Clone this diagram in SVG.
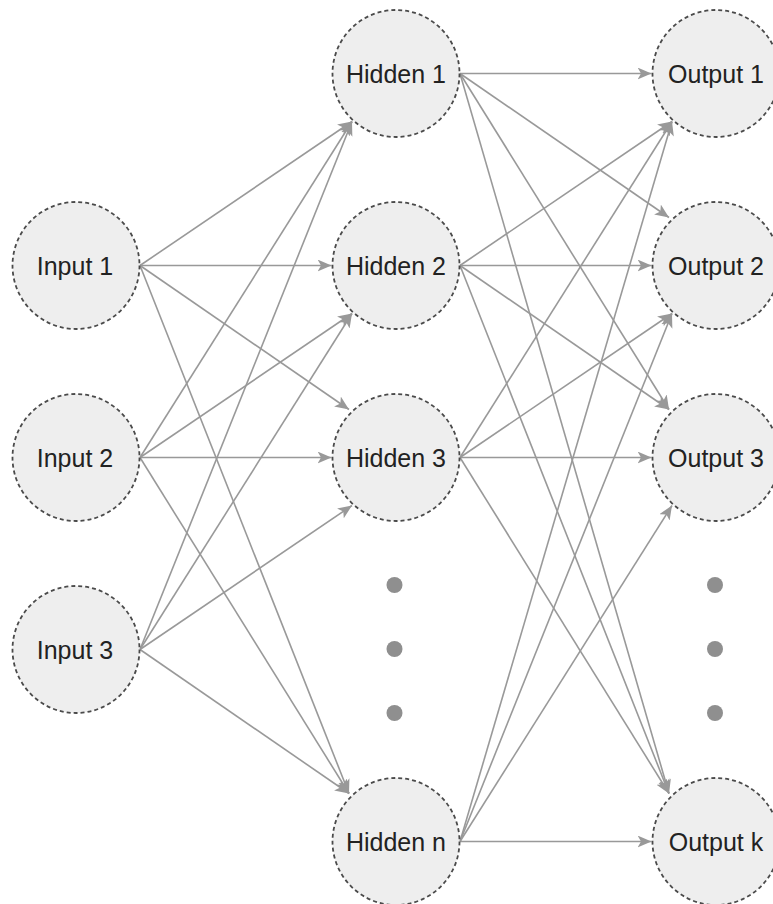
<svg xmlns="http://www.w3.org/2000/svg" width="773" height="904" viewBox="0 0 773 904">
<defs>
<style>
.node circle{fill:#eeeeee;stroke:#4a4a4a;stroke-width:1.8;stroke-dasharray:4 3}
.node text{font-family:"Liberation Sans",Arial,sans-serif;font-size:25px;fill:#222222;text-anchor:middle}
.edges line{stroke:#999999;stroke-width:1.6;marker-end:url(#arr)}
.dot{fill:#8f8f8f}
</style>
<marker id="arr" markerUnits="userSpaceOnUse" markerWidth="16" markerHeight="14" refX="14" refY="6" orient="auto" viewBox="0 0 16 14">
<path d="M0,0 L14,6 L0,12 L3.5,6 Z" fill="#999999"/>
</marker>
</defs>
<rect width="773" height="904" fill="#ffffff"/>
<g id="connectors" class="edges">
<line x1="140" y1="265.5" x2="352" y2="121.5"/>
<line x1="140" y1="265.5" x2="331.5" y2="265.5"/>
<line x1="140" y1="265.5" x2="349" y2="409.5"/>
<line x1="140" y1="265.5" x2="349" y2="793.5"/>
<line x1="140" y1="457.5" x2="352" y2="121.5"/>
<line x1="140" y1="457.5" x2="352" y2="313.5"/>
<line x1="140" y1="457.5" x2="331.5" y2="457.5"/>
<line x1="140" y1="457.5" x2="349" y2="793.5"/>
<line x1="140" y1="649.5" x2="352" y2="121.5"/>
<line x1="140" y1="649.5" x2="352" y2="313.5"/>
<line x1="140" y1="649.5" x2="352" y2="505.5"/>
<line x1="140" y1="649.5" x2="349" y2="793.5"/>
<line x1="460" y1="73.5" x2="651.5" y2="73.5"/>
<line x1="460" y1="73.5" x2="669" y2="217.5"/>
<line x1="460" y1="73.5" x2="669" y2="409.5"/>
<line x1="460" y1="73.5" x2="669" y2="793.5"/>
<line x1="460" y1="265.5" x2="672" y2="121.5"/>
<line x1="460" y1="265.5" x2="651.5" y2="265.5"/>
<line x1="460" y1="265.5" x2="669" y2="409.5"/>
<line x1="460" y1="265.5" x2="669" y2="793.5"/>
<line x1="460" y1="457.5" x2="672" y2="121.5"/>
<line x1="460" y1="457.5" x2="672" y2="313.5"/>
<line x1="460" y1="457.5" x2="651.5" y2="457.5"/>
<line x1="460" y1="457.5" x2="669" y2="793.5"/>
<line x1="460" y1="841.5" x2="672" y2="121.5"/>
<line x1="460" y1="841.5" x2="672" y2="313.5"/>
<line x1="460" y1="841.5" x2="672" y2="505.5"/>
<line x1="460" y1="841.5" x2="651.5" y2="841.5"/>
</g>
<g id="input1" class="node"><circle cx="76" cy="265.5" r="63.5"/><text x="75" y="274.5">Input 1</text></g>
<g id="input2" class="node"><circle cx="76" cy="457.5" r="63.5"/><text x="75" y="466.5">Input 2</text></g>
<g id="input3" class="node"><circle cx="76" cy="649.5" r="63.5"/><text x="75" y="658.5">Input 3</text></g>
<g id="hidden1" class="node"><circle cx="396" cy="73.5" r="63.5"/><text x="396" y="82.5">Hidden 1</text></g>
<g id="hidden2" class="node"><circle cx="396" cy="265.5" r="63.5"/><text x="396" y="274.5">Hidden 2</text></g>
<g id="hidden3" class="node"><circle cx="396" cy="457.5" r="63.5"/><text x="396" y="466.5">Hidden 3</text></g>
<g id="hiddenn" class="node"><circle cx="396" cy="841.5" r="63.5"/><text x="396" y="850.5">Hidden n</text></g>
<g id="output1" class="node"><circle cx="716" cy="73.5" r="63.5"/><text x="716" y="82.5">Output 1</text></g>
<g id="output2" class="node"><circle cx="716" cy="265.5" r="63.5"/><text x="716" y="274.5">Output 2</text></g>
<g id="output3" class="node"><circle cx="716" cy="457.5" r="63.5"/><text x="716" y="466.5">Output 3</text></g>
<g id="outputk" class="node"><circle cx="716" cy="841.5" r="63.5"/><text x="716" y="850.5">Output k</text></g>
<g id="hidden-dots">
<circle class="dot" cx="394.5" cy="585" r="8"/>
<circle class="dot" cx="394.5" cy="649" r="8"/>
<circle class="dot" cx="394.5" cy="713" r="8"/>
</g>
<g id="output-dots">
<circle class="dot" cx="715" cy="585" r="8"/>
<circle class="dot" cx="715" cy="649" r="8"/>
<circle class="dot" cx="715" cy="713" r="8"/>
</g>
</svg>
